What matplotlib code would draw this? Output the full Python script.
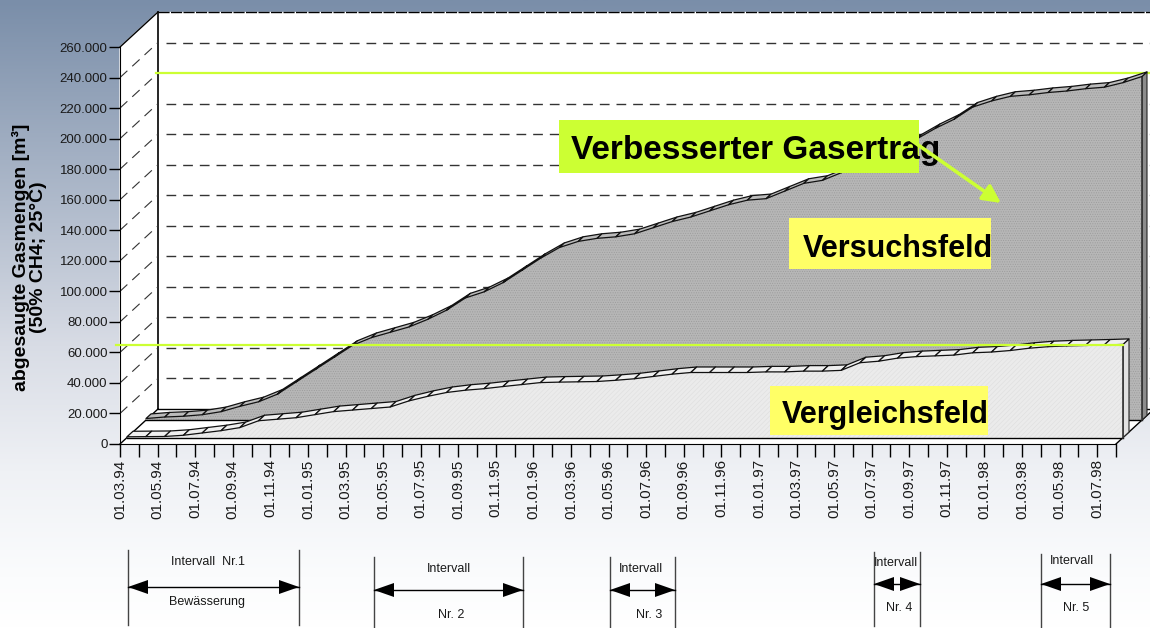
"""
Gas yield chart: Versuchsfeld vs Vergleichsfeld, drawn as a fake 3D area chart
"""
import numpy as np
import matplotlib
matplotlib.use('Agg')
import matplotlib.pyplot as plt
from matplotlib.colors import LinearSegmentedColormap
from matplotlib.collections import PolyCollection

plt.rcParams['font.family'] = ['Liberation Sans', 'DejaVu Sans']
plt.rcParams['hatch.linewidth'] = 0.4

W, H = 1150, 628

# ── Data ───────────────────────────────────────────────────────────────────
# one value per month, 01.03.94 .. 01.08.98, in m3
versuchsfeld = [1, 2, 2.5, 3.5, 5.5, 9, 12, 17, 25, 33, 41, 49, 54, 57.5, 61, 66, 72, 80,
                84, 90, 98, 106, 113, 117, 119, 120, 122, 126, 130, 133, 137, 141, 144, 145,
                150, 155, 157, 162, 168, 173, 179, 184, 191, 197, 205, 209, 212, 213, 214.5,
                215.5, 217, 218, 221, 225]
vergleichsfeld = [0.5, 0.6, 0.7, 1.5, 3, 4.5, 6.5, 11, 12, 13, 15, 17, 18, 19, 20, 24, 27, 29.5,
                  31, 32, 33.4, 34.7, 36, 36.3, 36.5, 36.7, 37.5, 38.5, 40, 41.5, 42.6, 42.6,
                  42.6, 42.6, 43, 43, 43.5, 43.5, 44, 49, 50, 52, 53, 53.5, 54, 55.5, 56, 57,
                  58.5, 59.5, 60, 60.3, 60.6, 61]
y_ticks = [0, 20000, 40000, 60000, 80000, 100000, 120000, 140000, 160000, 180000, 200000,
           220000, 240000, 260000]
y_labels = ['0', '20.000', '40.000', '60.000', '80.000', '100.000', '120.000', '140.000',
            '160.000', '180.000', '200.000', '220.000', '240.000', '260.000']
x_labels = ['01.03.94', '01.05.94', '01.07.94', '01.09.94', '01.11.94', '01.01.95', '01.03.95',
            '01.05.95', '01.07.95', '01.09.95', '01.11.95', '01.01.96', '01.03.96', '01.05.96',
            '01.07.96', '01.09.96', '01.11.96', '01.01.97', '01.03.97', '01.05.97', '01.07.97',
            '01.09.97', '01.11.97', '01.01.98', '01.03.98', '01.05.98', '01.07.98']
grid_levels = [20000, 40000, 60000, 80000, 100000, 120000, 140000, 160000, 180000, 200000, 240000]
wall_levels = [20000, 40000, 60000, 80000, 100000, 120000, 140000, 160000, 180000, 200000,
               220000, 240000]
target_high = 220000
target_low = 65000

# interval brackets below the chart, in pixels
iv_left = [128, 374, 610, 874, 1041]
iv_right = [299, 523, 675, 920, 1110]
iv_arrow_y = [587, 590, 590, 584, 584]
iv_top = [550, 557, 557, 552, 554]
iv_bottom = [625, 628, 628, 626, 628]
iv_upper = ['Intervall  Nr.1', 'Intervall', 'Intervall', 'Intervall', 'Intervall']
iv_upper_xy = [(208, 562), (449, 569), (641, 569), (896, 563), (1072, 561)]
iv_lower = ['Bewässerung', 'Nr. 2', 'Nr. 3', 'Nr. 4', 'Nr. 5']
iv_lower_xy = [(207, 602), (451, 615), (649, 615), (899, 608), (1076, 608)]

# ── Helper: depth offset of the fake 3D box ────────────────────────────────
XMAX, YMAX = 53, 260000
PX_X = 996 / XMAX
PX_Y = 397 / YMAX
DX, DY = 38 / PX_X, 35 / PX_Y


def proj(m, v, d):
    return np.asarray(m) + d * DX, np.asarray(v) + d * DY


months = np.arange(len(versuchsfeld))
back_v = np.array(versuchsfeld) * 1000
front_v = np.array(vergleichsfeld) * 1000

fig = plt.figure(figsize=(W / 100, H / 100), dpi=100)

# ── Background gradient ────────────────────────────────────────────────────
bg = fig.add_axes([0, 0, 1, 1], zorder=-1)
cmap = LinearSegmentedColormap.from_list('bg', [(0, '#7A8EA9'), (0.32, '#AFBACB'),
                                                (0.55, '#D8DCE5'), (0.75, '#EFF1F5'),
                                                (0.92, '#FBFCFD'), (1, '#FFFFFF')])
bg.imshow(np.linspace(0, 1, 256)[:, None], aspect='auto', cmap=cmap)
bg.axis('off')

# ── Main axes: front plane of the box ──────────────────────────────────────
ax = fig.add_axes([120 / W, (H - 444) / H, 996 / W, 397 / H], zorder=1)
ax.patch.set_visible(False)
ax.set_xlim(0, XMAX)
ax.set_ylim(0, YMAX)
for s in ['top', 'right']:
    ax.spines[s].set_visible(False)
ax.set_yticks(y_ticks)
ax.set_yticklabels(y_labels, fontsize=9.5, color='#1a1a1a')
ax.set_xticks(np.arange(0, 53, 2))
ax.set_xticklabels(x_labels, rotation=90, fontsize=11, color='#1a1a1a')
ax.set_xticks(np.arange(0, 54), minor=True)
ax.tick_params(axis='y', length=8, width=1, pad=1)
ax.tick_params(axis='x', which='both', length=9.5, width=1, pad=1.5)
ax.set_ylabel('abgesaugte Gasmengen [m³]\n(50% CH4; 25°C)', fontsize=14, fontweight='bold',
              linespacing=1.05)
ax.yaxis.set_label_coords(-0.073, 0.47)

# walls and floor
wall_x, wall_y = proj([0, XMAX, XMAX, 0], [0, 0, YMAX, YMAX], 1)
ax.fill(wall_x, wall_y, color='white', zorder=0.5, clip_on=False)
ax.fill([0, wall_x[0], wall_x[3], 0], [0, wall_y[0], wall_y[3], YMAX], color='white',
        zorder=0.5, clip_on=False)
ax.fill([0, XMAX, wall_x[1], wall_x[0]], [0, 0, wall_y[1], wall_y[0]], color='white',
        zorder=0.5, clip_on=False)

# box outline
ax.plot([wall_x[0], wall_x[3]], [wall_y[0], wall_y[3]], color='black', lw=1.2, zorder=0.7, clip_on=False)
ax.plot([0, wall_x[3]], [YMAX, wall_y[3]], color='black', lw=1, zorder=0.7, clip_on=False)
ax.plot([0, wall_x[0]], [0, wall_y[0]], color='black', lw=1, zorder=0.7, clip_on=False)
ax.plot([XMAX, wall_x[1]], [0, wall_y[1]], color='black', lw=1, zorder=0.7, clip_on=False)
ax.plot([wall_x[0], wall_x[1]], [wall_y[0], wall_y[0]], color='black', lw=1, zorder=0.7, clip_on=False)
ax.plot([wall_x[3], wall_x[2]], [wall_y[3], wall_y[3]], color='black', lw=1, ls=(0, (8, 1)),
        zorder=0.7, clip_on=False)

# dashed grid on back wall and left wall
for v in grid_levels:
    gx, gy = proj([0.4, XMAX], [v, v], 1)
    ax.plot(gx, gy, color='#333333', lw=1, ls=(0, (7, 5)), zorder=0.8, clip_on=False)
for v in wall_levels:
    gx, gy = proj([0, 0], [v, v], np.array([0, 1]))
    ax.plot(gx, gy, color='#333333', lw=0.8, ls=(0, (9, 6)), zorder=0.8, clip_on=False)

# upper reference line, behind the series
gx, gy = proj([-0.1, XMAX - 0.2], [target_high, target_high], 1)
ax.plot(gx, gy, color='#CCFF33', lw=1.6, zorder=0.9, clip_on=False)


def draw_series(values, d0, d1, face, hatch, hatch_col, top_col, side_col, z):
    # side face at the right end
    x0, y0 = proj([XMAX, XMAX], [0, values[-1]], d0)
    x1, y1 = proj([XMAX, XMAX], [0, values[-1]], d1)
    ax.fill([x0[0], x1[0], x1[1], x0[1]], [y0[0], y1[0], y1[1], y0[1]], facecolor=side_col,
            edgecolor='#222222', lw=0.8, zorder=z, clip_on=False)
    # front face
    fx, fy = proj(months, values, d0)
    bx, by = proj(months, np.zeros_like(values), d0)
    ax.fill_between(fx, by, fy, facecolor=face, hatch=hatch, edgecolor=hatch_col, lw=0,
                    zorder=z + 0.1, clip_on=False)
    ax.plot([fx[0], fx[-1]], [by[0], by[0]], color='black', lw=1, zorder=z + 0.2, clip_on=False)
    ax.plot([fx[-1], fx[-1]], [by[0], fy[-1]], color='#333333', lw=1.2, zorder=z + 0.2, clip_on=False)
    # top ribbon, one cell per month
    rx, ry = proj(months, values, d1)
    cells = [[(fx[i], fy[i]), (fx[i + 1], fy[i + 1]), (rx[i + 1], ry[i + 1]), (rx[i], ry[i])]
             for i in range(len(months) - 1)]
    ax.add_collection(PolyCollection(cells, facecolors=top_col, edgecolors='#111111',
                                     linewidths=0.9, zorder=z + 0.3, clip_on=False))


draw_series(back_v, 26 / 38, 31 / 38, '#B6B6B6', '.......', '#9A9A9A', '#BBBBBB', '#8C8C8C', 1)
draw_series(front_v, 7 / 38, 13 / 38, '#EBEBEB', '///////', '#DEDEDE', '#EFEFEF', '#E2E2E2', 2)

# lower reference line, in front of everything
gx, gy = proj([-0.2, XMAX + 0.35], [target_low, target_low], 0)
ax.plot(gx, gy, color='#CCFF33', lw=1.6, zorder=3, clip_on=False)

# ── Overlay in pixels: callouts and interval brackets ──────────────────────
ov = fig.add_axes([0, 0, 1, 1], zorder=2)
ov.set_xlim(0, W)
ov.set_ylim(H, 0)
ov.axis('off')

ov.fill_between([559, 919], 120, 173, color='#CCFF33', lw=0, zorder=1)
ov.text(571, 150, 'Verbesserter Gasertrag', fontsize=24, fontweight='bold', va='center', zorder=2)
ov.annotate('', xy=(1001, 203), xytext=(911, 140), zorder=3,
            arrowprops=dict(arrowstyle='-|>,head_length=0.6,head_width=0.3', color='#CCFF33',
                            lw=2.6, mutation_scale=18, shrinkA=0, shrinkB=0))
ov.fill_between([789, 991], 218, 269, color='#FFFF66', lw=0, zorder=1)
ov.text(803, 249, 'Versuchsfeld', fontsize=22, fontweight='bold', va='center', zorder=2)
ov.fill_between([770, 988], 386, 435, color='#FFFF66', lw=0, zorder=1)
ov.text(782, 415, 'Vergleichsfeld', fontsize=22, fontweight='bold', va='center', zorder=2)

for i in range(len(iv_left)):
    left, right, ya = iv_left[i], iv_right[i], iv_arrow_y[i]
    for xv in [left, right]:
        ov.plot([xv, xv], [iv_top[i], iv_bottom[i]], color='#444444', lw=1)
    ov.plot([left, right], [ya, ya], color='black', lw=1)
    ov.fill([left, left + 20, left + 20], [ya, ya - 7, ya + 7], color='black', lw=0)
    ov.fill([right, right - 20, right - 20], [ya, ya - 7, ya + 7], color='black', lw=0)
    ov.text(*iv_upper_xy[i], iv_upper[i], fontsize=9, ha='center', va='center', color='#1a1a1a')
    ov.text(*iv_lower_xy[i], iv_lower[i], fontsize=9, ha='center', va='center', color='#1a1a1a')

fig.savefig('out.png', dpi=100, facecolor='white')
